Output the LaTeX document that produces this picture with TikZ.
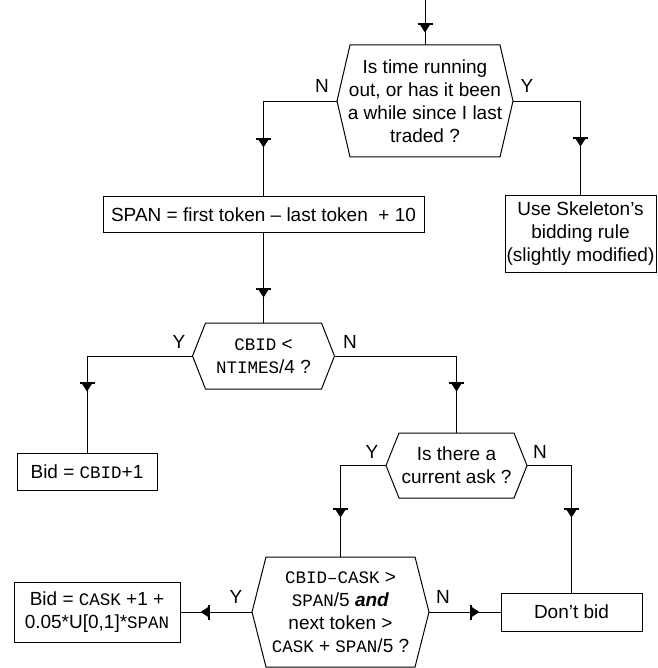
\documentclass[tikz,border=0pt]{standalone}
\usepackage{fontspec}
\setmainfont{Liberation Sans}
\newfontfamily\codefont{Liberation Mono}
\usepackage{tikz}
\usetikzlibrary{calc, decorations.markings}

\newcommand{\code}[1]{{\codefont\fontsize{17.5}{23}\selectfont #1}}
\newcommand{\flowtip}{\fill (4.5,0) -- (-4,5.5) -- (-4,-5.5) -- cycle; \draw[line width=1.6pt] (-4,-7.5) -- (-4,7.5);}

\tikzset{
	box/.style={draw, line width=1pt, inner sep=0pt, outer sep=0pt, align=center},
	decision/.style={inner sep=0pt, outer sep=0pt, align=center},
	flow/.style={line width=0.9pt, postaction={decorate}, decoration={markings, mark=at position -#1pt with {\flowtip}}},
	lbl/.style={inner sep=0pt},
}

\begin{document}
\begin{tikzpicture}[x=1pt, y=-1pt, font=\fontsize{19}{23}\selectfont]

		\useasboundingbox (0,0) rectangle (657,668);

		\coordinate (start) at (425,0);
		\node[decision, minimum width=176pt, minimum height=112pt] (q1) at (425,101) {Is time running\\out, or has it been\\a while since I last\\traded ?};
		\node[box, minimum width=321pt, minimum height=35pt] (span) at (263.5,214.5) {SPAN = first token -- last token~ + 10};
		\node[box, minimum width=151pt, minimum height=76pt] (skel) at (580.5,234) {Use Skeleton's\\bidding rule\\(slightly modified)};

		\node[decision, minimum width=142pt, minimum height=66pt] (q2) at (263.5,356) {\code{CBID} <\\\code{NTIMES}/4 ?};
		\node[box, minimum width=140pt, minimum height=37pt] (bid1) at (87,471.5) {Bid = \code{CBID}+1};
		\node[decision, minimum width=141pt, minimum height=65pt] (q3) at (456.5,465.5) {Is there a\\current ask ?};

		\node[decision, minimum width=177pt, minimum height=110pt] (q4) at (340.5,612) {\code{CBID–CASK} >\\\code{SPAN}/5 \textbf{\textit{and}}\\next token >\\\code{CASK} + \code{SPAN}/5 ?};
		\node[box, minimum width=166pt, minimum height=60pt] (bid2) at (97,612) {Bid = \code{CASK} +1 +\\0.05*U[0,1]*\code{SPAN}};
		\node[box, minimum width=141pt, minimum height=38pt] (nobid) at (571.5,612) {Don't bid};

		\foreach \n/\d in {q1/13, q2/13, q3/13, q4/14}
			\draw[line width=1pt] ($(\n.north west)+(\d,0)$) -- ($(\n.north east)-(\d,0)$) -- (\n.east) -- ($(\n.south east)-(\d,0)$) -- ($(\n.south west)+(\d,0)$) -- (\n.west) -- cycle;

		\node[lbl] (q1n) at (322,86) {N};
		\node[lbl] (q1y) at (527,86) {Y};
		\node[lbl] (q2y) at (179,342) {Y};
		\node[lbl] (q2n) at (350,342) {N};
		\node[lbl] (q3y) at (372,452) {Y};
		\node[lbl] (q3n) at (540,452) {N};
		\node[lbl] (q4y) at (236,597) {Y};
		\node[lbl] (q4n) at (443,597) {N};

		\draw[flow=17] (start) -- (q1.north);
		\draw[flow=54] (q1.west) -| (span.north);
		\draw[flow=54] (q1.east) -| (skel.north);
		\draw[flow=30] (span.south) -- (q2.north);
		\draw[flow=66] (q2.west) -| (bid1.north);
		\draw[flow=46] (q2.east) -| (q3.north);
		\draw[flow=44] (q3.west) -| (q4.north);
		\draw[flow=80] (q3.east) -| (nobid.north);
		\draw[flow=25] (q4.west) -- (bid2.east);
		\draw[flow=26] (q4.east) -- (nobid.west);

\end{tikzpicture}
\end{document}
